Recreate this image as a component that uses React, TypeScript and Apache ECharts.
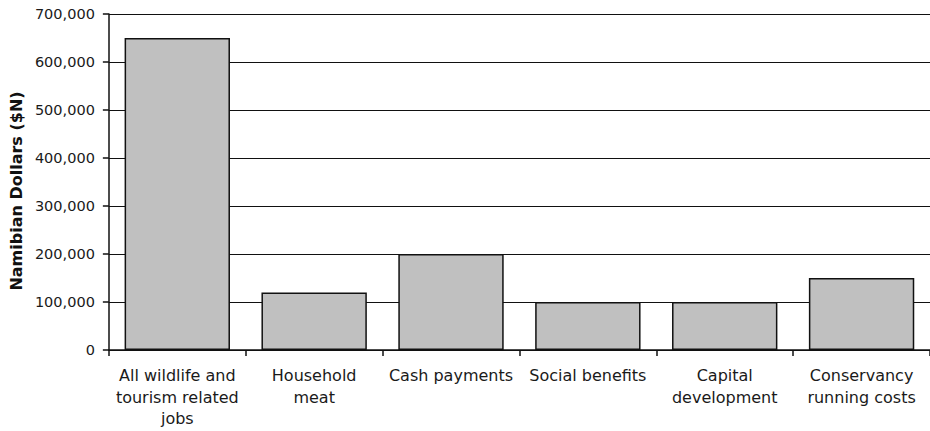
import React, { useEffect, useRef } from "react";
import * as echarts from "echarts";

const categories = [
  "All wildlife and\ntourism related\njobs",
  "Household\nmeat",
  "Cash payments",
  "Social benefits",
  "Capital\ndevelopment",
  "Conservancy\nrunning costs",
];
const values = [650000, 120000, 200000, 100000, 100000, 150000];
const yAxisTitle = "Namibian Dollars ($N)";

export default function App() {
  const ref = useRef<HTMLDivElement>(null);
  useEffect(() => {
    if (!ref.current) return;
    const chart = echarts.init(ref.current, undefined, { renderer: "svg" });
    const font = "DejaVu Sans, Verdana, sans-serif";
    chart.setOption({
      animation: false,
      backgroundColor: "#ffffff",
      grid: { left: 107, top: 14, width: 828, height: 336 },
      xAxis: {
        type: "category",
        data: categories,
        axisLine: { lineStyle: { color: "#111", width: 1.5 } },
        axisTick: { show: true, length: 6, alignWithLabel: false, lineStyle: { color: "#111", width: 1.5 } },
        axisLabel: {
          interval: 0,
          color: "#1a1a1a",
          fontFamily: font,
          fontSize: 16,
          lineHeight: 21.5,
          margin: 15,
        },
      },
      yAxis: {
        type: "value",
        min: 0,
        max: 700000,
        interval: 100000,
        name: yAxisTitle,
        nameLocation: "middle",
        nameGap: 79,
        nameTextStyle: {
          color: "#111",
          fontFamily: font,
          fontSize: 16,
          fontWeight: "bold",
          padding: [0, 18, 0, 0],
        },
        axisLine: { show: true, lineStyle: { color: "#111", width: 1.5 } },
        axisTick: { show: true, length: 6, lineStyle: { color: "#111", width: 1.5 } },
        axisLabel: {
          color: "#1a1a1a",
          fontFamily: font,
          fontSize: 14.5,
          margin: 14,
          formatter: (v: number) => v.toLocaleString("en-US"),
        },
        splitLine: { show: true, lineStyle: { color: "#111", width: 1 } },
      },
      series: [
        {
          type: "bar",
          data: values,
          barCategoryGap: "23%",
          itemStyle: { color: "#c0c0c0", borderColor: "#111", borderWidth: 1.5 },
        },
      ],
    });
    return () => chart.dispose();
  }, []);
  return (
    <div
      ref={ref}
      style={{ position: "absolute", left: 0, top: 0, width: 930, height: 431 }}
    />
  );
}
